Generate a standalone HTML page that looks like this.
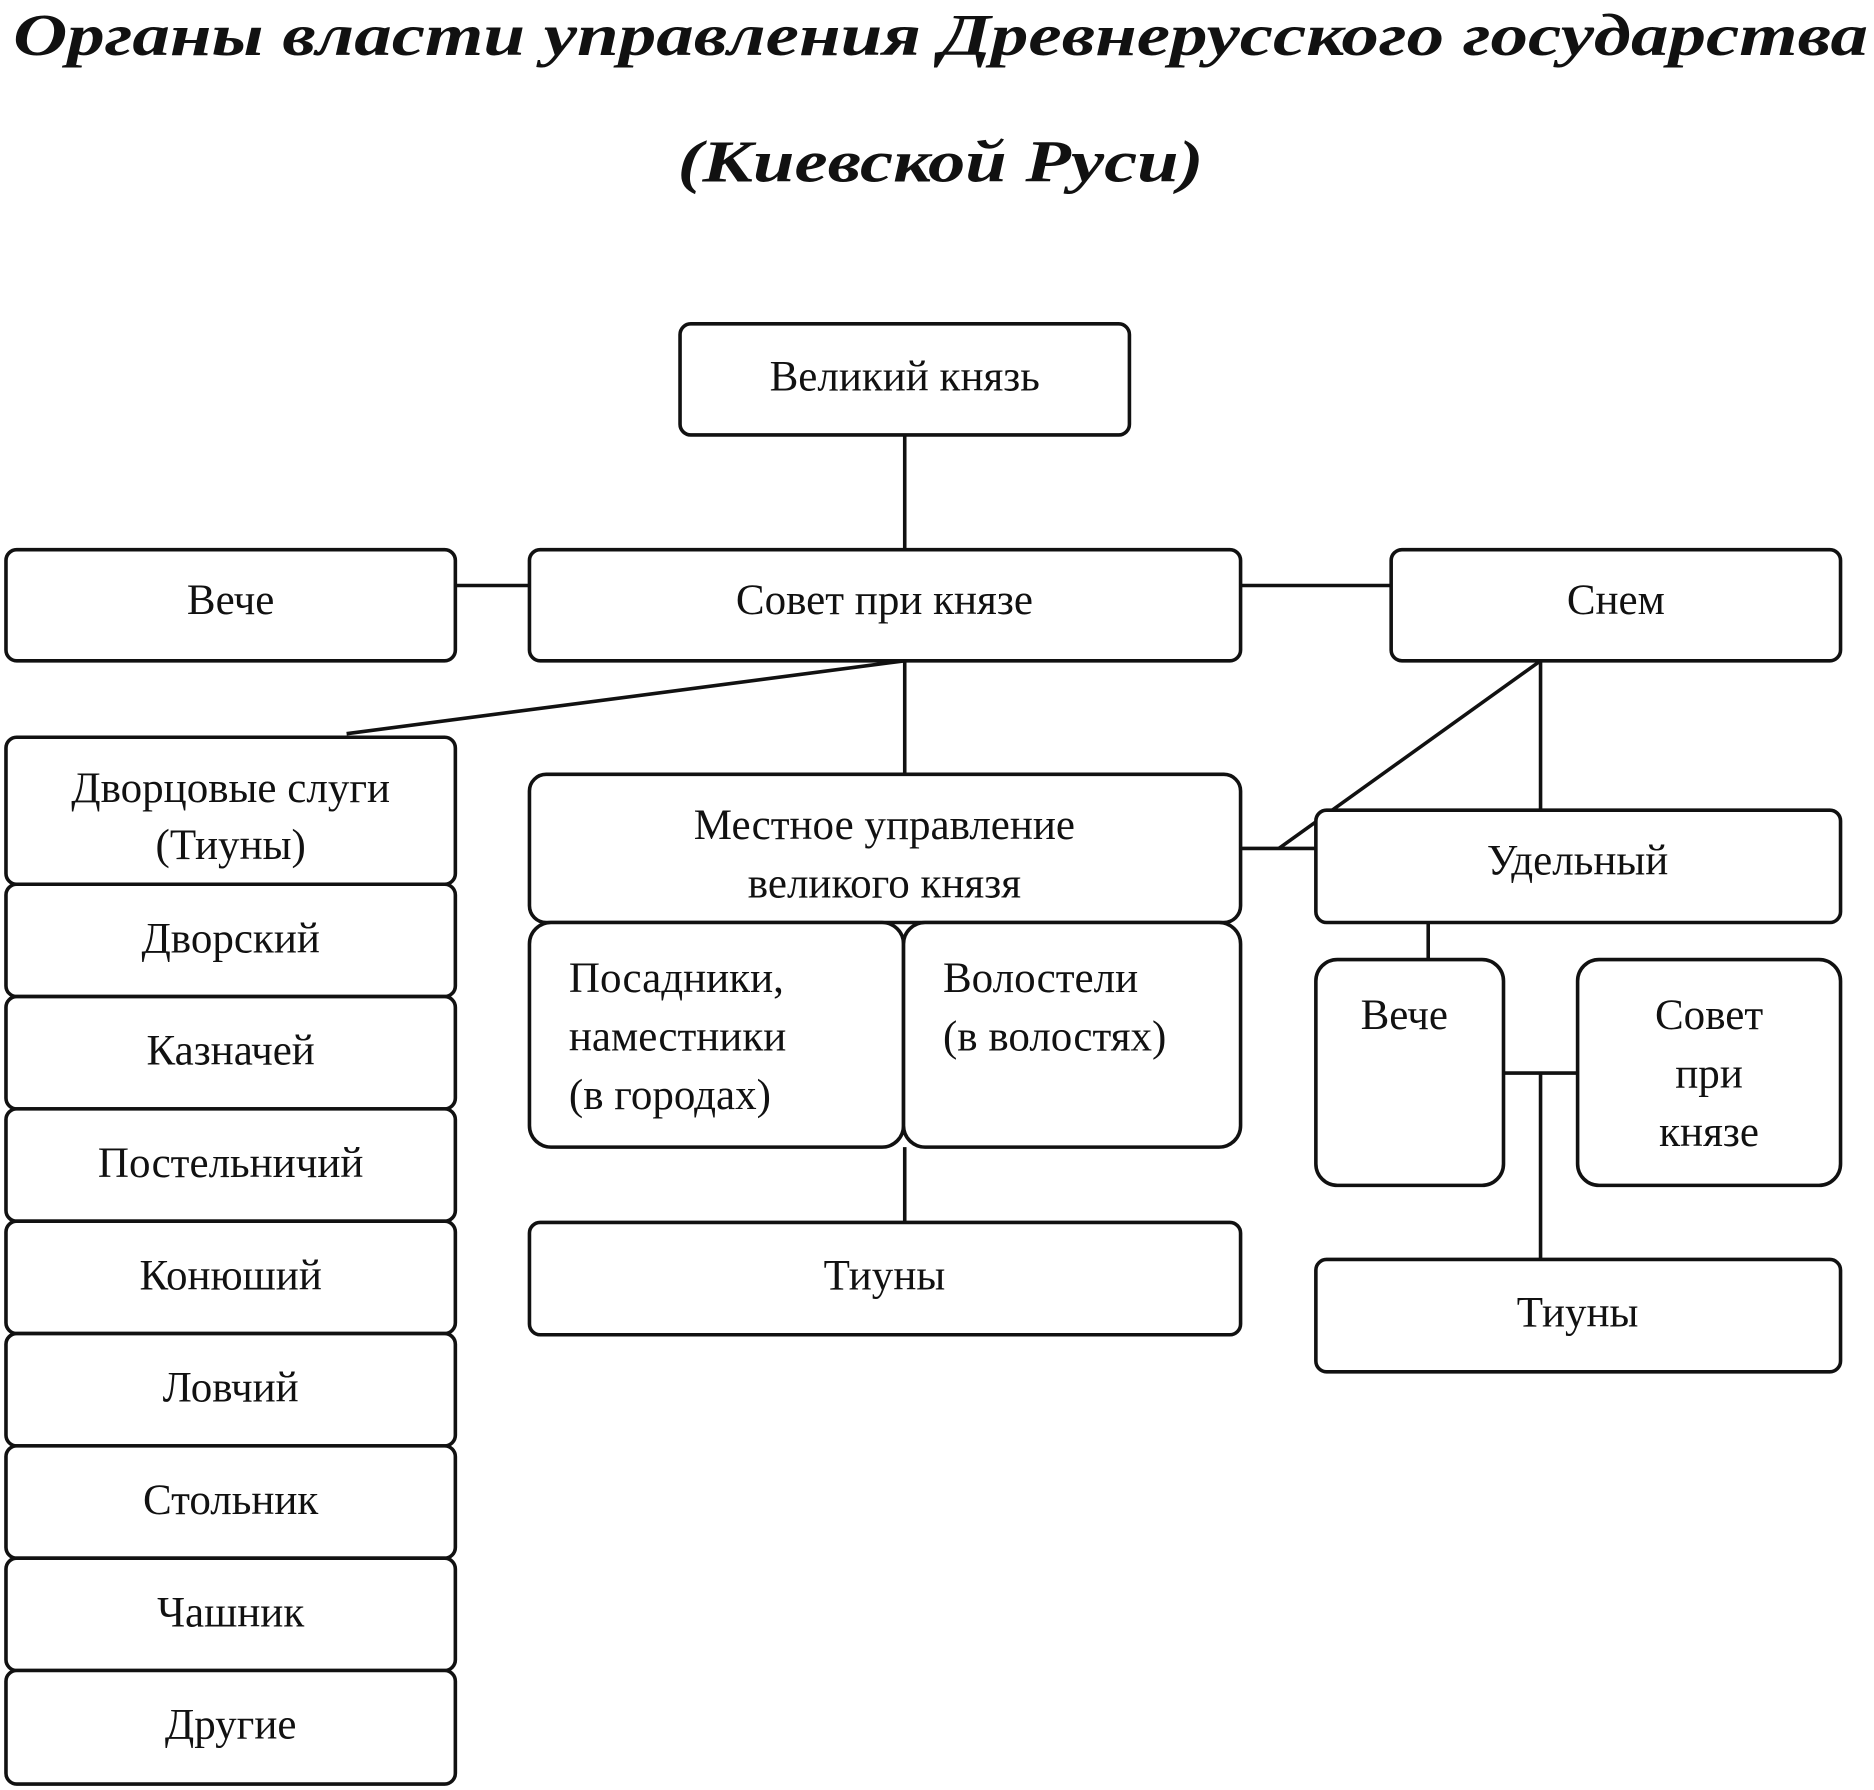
<!DOCTYPE html>
<html><head><meta charset="utf-8"><style>html,body{margin:0;padding:0;background:#fff}svg{display:block}</style></head>
<body>
<svg width="1874" height="1790" viewBox="0 0 1568 1498" preserveAspectRatio="none" xmlns="http://www.w3.org/2000/svg">
<g font-family="Liberation Serif, serif" fill="#111">
<text x="787" y="46" font-size="50" font-weight="bold" font-style="italic" text-anchor="middle" textLength="1552" lengthAdjust="spacingAndGlyphs">Органы власти управления Древнерусского государства</text>
<text x="787" y="152" font-size="50" font-weight="bold" font-style="italic" text-anchor="middle" textLength="440" lengthAdjust="spacingAndGlyphs">(Киевской Руси)</text>
</g>
<g stroke="#111" stroke-width="3" fill="none">
<line x1="757" y1="364" x2="757" y2="460"/>
<line x1="381" y1="490" x2="443" y2="490"/>
<line x1="1038" y1="490" x2="1164" y2="490"/>
<line x1="757" y1="553" x2="757" y2="648"/>
<line x1="757" y1="553" x2="290" y2="614"/>
<line x1="1289" y1="553" x2="1289" y2="678"/>
<line x1="1289" y1="553" x2="1070" y2="710"/>
<line x1="1038" y1="710" x2="1101" y2="710"/>
<line x1="1195" y1="772" x2="1195" y2="803"/>
<line x1="1258" y1="898" x2="1320" y2="898"/>
<line x1="1289" y1="898" x2="1289" y2="1054"/>
<line x1="757" y1="960" x2="757" y2="1023"/>
</g>
<g stroke="#111" stroke-width="3" fill="#fff">
<rect x="569" y="271" width="376" height="93" rx="9"/>
<rect x="5" y="460" width="376" height="93" rx="9"/>
<rect x="443" y="460" width="595" height="93" rx="9"/>
<rect x="1164" y="460" width="376" height="93" rx="9"/>
<rect x="5" y="617" width="376" height="123" rx="9"/>
<rect x="5" y="740" width="376" height="94" rx="9"/>
<rect x="5" y="834" width="376" height="94" rx="9"/>
<rect x="5" y="928" width="376" height="94" rx="9"/>
<rect x="5" y="1022" width="376" height="94" rx="9"/>
<rect x="5" y="1116" width="376" height="94" rx="9"/>
<rect x="5" y="1210" width="376" height="94" rx="9"/>
<rect x="5" y="1304" width="376" height="94" rx="9"/>
<rect x="5" y="1398" width="376" height="95" rx="9"/>
<rect x="443" y="648" width="595" height="124" rx="14"/>
<rect x="443" y="772" width="313" height="188" rx="18"/>
<rect x="756" y="772" width="282" height="188" rx="18"/>
<rect x="443" y="1023" width="595" height="94" rx="9"/>
<rect x="1101" y="678" width="439" height="94" rx="9"/>
<rect x="1101" y="803" width="157" height="189" rx="18"/>
<rect x="1320" y="803" width="220" height="189" rx="18"/>
<rect x="1101" y="1054" width="439" height="94" rx="9"/>
</g>
<g font-family="Liberation Serif, serif" font-size="36" fill="#111" text-anchor="middle">
<text x="757" y="327">Великий князь</text>
<text x="193" y="514">Вече</text>
<text x="740" y="514">Совет при князе</text>
<text x="1352" y="514">Снем</text>
<text x="193" y="671">Дворцовые слуги</text>
<text x="193" y="719">(Тиуны)</text>
<text x="193" y="797">Дворский</text>
<text x="193" y="891">Казначей</text>
<text x="193" y="985">Постельничий</text>
<text x="193" y="1079">Конюший</text>
<text x="193" y="1173">Ловчий</text>
<text x="193" y="1267">Стольник</text>
<text x="193" y="1361">Чашник</text>
<text x="193" y="1455">Другие</text>
<text x="740" y="702">Местное управление</text>
<text x="740" y="751">великого князя</text>
<text x="1320" y="732">Удельный</text>
<text x="740" y="1079">Тиуны</text>
<text x="1320" y="1110">Тиуны</text>
<text x="1175" y="861">Вече</text>
<text x="1430" y="861">Совет</text>
<text x="1430" y="910">при</text>
<text x="1430" y="959">князе</text>
</g>
<g font-family="Liberation Serif, serif" font-size="36" fill="#111">
<text x="476" y="830">Посадники,</text>
<text x="476" y="879">наместники</text>
<text x="476" y="928">(в городах)</text>
<text x="789" y="830">Волостели</text>
<text x="789" y="879">(в волостях)</text>
</g>
</svg>
</body></html>
